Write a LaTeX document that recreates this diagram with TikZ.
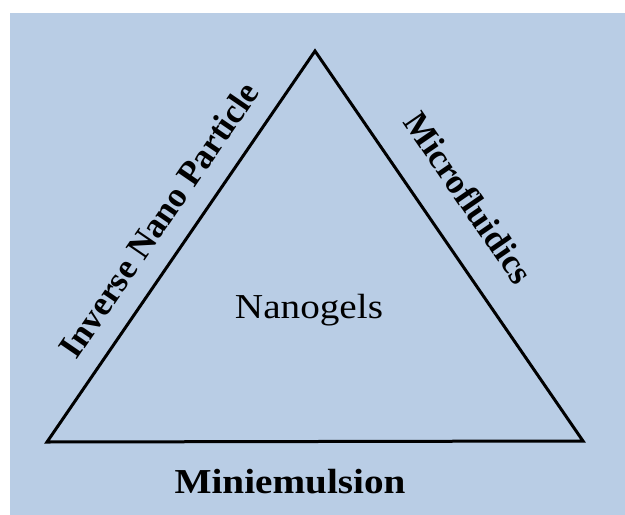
\documentclass[tikz,border=0pt]{standalone}
\usepackage{fontspec}
\setmainfont{Liberation Serif}
\definecolor{bgblue}{HTML}{B9CDE5}
\tikzset{
  side/.style={line width=3pt, line join=miter},
  label/.style={font=\fontsize{35}{40}\selectfont\bfseries, inner sep=0pt},
  centre/.style={font=\fontsize{35}{40}\selectfont, inner sep=0pt}
}
\begin{document}
\begin{tikzpicture}[x=1pt,y=-1pt]
\useasboundingbox (0,0) rectangle (625,515);
\fill[bgblue] (10,13) rectangle (625,515);
\coordinate (A) at (315,51);
\coordinate (B) at (47,442);
\coordinate (C) at (583,441);
\draw[side] (A) -- (B) -- (C) -- cycle;
\path (B) -- (A) node[label, pos=0.52, sloped, anchor=south, yshift=21pt] (inp) {Inverse Nano Particle};
\path (A) -- (C) node[label, pos=0.44, sloped, anchor=south, yshift=31pt] (mic) {Microfluidics};
\node[centre, anchor=base, xscale=1.12] (nano) at (309,318) {Nanogels};
\node[label, anchor=base, xscale=1.12] (mini) at (290,493) {Miniemulsion};
\end{tikzpicture}
\end{document}
